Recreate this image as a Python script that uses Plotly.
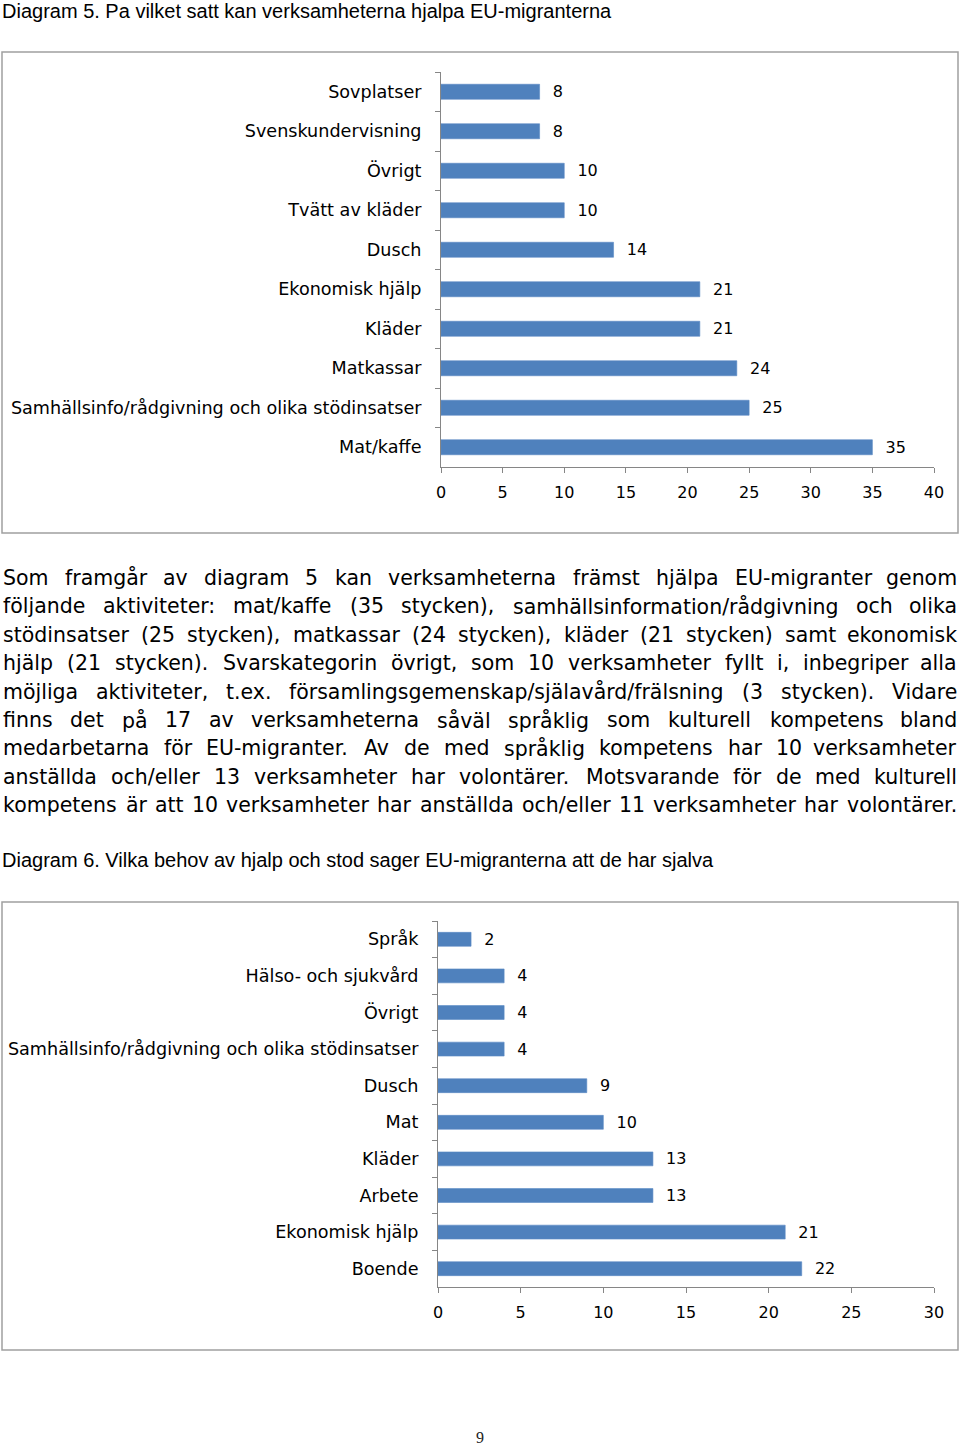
import plotly.graph_objects as go

W, H = 960, 1448

# ---------------- data ----------------
cats1 = ["Sovplatser", "Svenskundervisning", "Övrigt", "Tvätt av kläder", "Dusch",
         "Ekonomisk hjälp", "Kläder", "Matkassar",
         "Samhällsinfo/rådgivning och olika stödinsatser", "Mat/kaffe"]
vals1 = [8, 8, 10, 10, 14, 21, 21, 24, 25, 35]
ticks1 = [0, 5, 10, 15, 20, 25, 30, 35, 40]

cats2 = ["Språk", "Hälso- och sjukvård", "Övrigt",
         "Samhällsinfo/rådgivning och olika stödinsatser", "Dusch", "Mat",
         "Kläder", "Arbete", "Ekonomisk hjälp", "Boende"]
vals2 = [2, 4, 4, 4, 9, 10, 13, 13, 21, 22]
ticks2 = [0, 5, 10, 15, 20, 25, 30]

title1 = "Diagram 5. Pa vilket satt kan verksamheterna hjalpa EU-migranterna"
title2 = "Diagram 6. Vilka behov av hjalp och stod sager EU-migranterna att de har sjalva"
paragraph_lines = [
    "Som framgår av diagram 5 kan verksamheterna främst hjälpa EU-migranter genom",
    "följande aktiviteter: mat/kaffe (35 stycken), samhällsinformation/rådgivning och olika",
    "stödinsatser (25 stycken), matkassar (24 stycken), kläder (21 stycken) samt ekonomisk",
    "hjälp (21 stycken). Svarskategorin övrigt, som 10 verksamheter fyllt i, inbegriper alla",
    "möjliga aktiviteter, t.ex. församlingsgemenskap/själavård/frälsning (3 stycken). Vidare",
    "finns det på 17 av verksamheterna såväl språklig som kulturell kompetens bland",
    "medarbetarna för EU-migranter. Av de med språklig kompetens har 10 verksamheter",
    "anställda och/eller 13 verksamheter har volontärer. Motsvarande för de med kulturell",
    "kompetens är att 10 verksamheter har anställda och/eller 11 verksamheter har volontärer.",
]
page_number = "9"

# ---------------- helpers ----------------
def px(x):
    return x / W

def py(y):
    return 1 - y / H

# approximate DejaVu Sans advance widths (units per 2048 em)
DJV = {' ': 651, '(': 799, ')': 799, ',': 651, '-': 739, '.': 651, '/': 690, ':': 690,
       'A': 1401, 'E': 1294, 'M': 1767, 'S': 1300, 'U': 1499, 'V': 1401,
       'a': 1255, 'b': 1300, 'c': 1126, 'd': 1300, 'e': 1260, 'f': 721, 'g': 1300,
       'h': 1298, 'i': 569, 'j': 569, 'k': 1186, 'l': 569, 'm': 1995, 'n': 1298,
       'o': 1253, 'p': 1300, 'q': 1300, 'r': 842, 's': 1067, 't': 803, 'u': 1298,
       'v': 1212, 'w': 1675, 'x': 1212, 'y': 1212, 'z': 1075,
       'ä': 1255, 'å': 1255, 'ö': 1253}
for d in "0123456789":
    DJV[d] = 1303

def text_width(s, size):
    return sum(DJV.get(ch, 1200) for ch in s) / 2048 * size

BLUE = "#4F81BD"
AXIS = "#868686"
FRAME = "#a0a0a0"
FONT = "DejaVu Sans"

fig = go.Figure()

fig.add_trace(go.Bar(
    x=vals1, y=cats1, orientation="h", xaxis="x", yaxis="y",
    marker=dict(color=BLUE, line=dict(color="#5b8ac4", width=0.6)),
    text=["\u00a0\u00a0" + str(v) for v in vals1], textposition="outside",
    textfont=dict(family=FONT, size=16, color="#000"),
    constraintext="none", cliponaxis=False, showlegend=False, hoverinfo="skip",
))
fig.add_trace(go.Bar(
    x=vals2, y=cats2, orientation="h", xaxis="x2", yaxis="y2",
    marker=dict(color=BLUE, line=dict(color="#5b8ac4", width=0.6)),
    text=["\u00a0\u00a0" + str(v) for v in vals2], textposition="outside",
    textfont=dict(family=FONT, size=16, color="#000"),
    constraintext="none", cliponaxis=False, showlegend=False, hoverinfo="skip",
))

xcommon = dict(showgrid=False, zeroline=False, showline=True, linecolor=AXIS, linewidth=1,
               ticks="outside", ticklen=5, tickcolor=AXIS, tickwidth=1,
               tickfont=dict(family=FONT, size=16, color="#000"), ticklabelstandoff=6,
               automargin=False, fixedrange=True)
ycommon = dict(type="category", autorange="reversed", showgrid=False, zeroline=False,
               showline=True, linecolor=AXIS, linewidth=1, ticks="outside", ticklen=5,
               tickcolor=AXIS, tickwidth=1, tickson="boundaries",
               tickfont=dict(family=FONT, size=17.6, color="#000"), ticklabelstandoff=15,
               automargin=False, fixedrange=True)

fig.update_layout(
    width=W, height=H, autosize=False,
    margin=dict(l=0, r=0, t=0, b=0, pad=0, autoexpand=False),
    paper_bgcolor="white", plot_bgcolor="white",
    bargap=0.62, showlegend=False,
    xaxis=dict(domain=[px(441), px(934)], range=[0, 40], tickvals=ticks1, anchor="y", **xcommon),
    yaxis=dict(domain=[py(467), py(72)], anchor="x", **ycommon),
    xaxis2=dict(domain=[px(438), px(934)], range=[0, 30], tickvals=ticks2, anchor="y2", **xcommon),
    yaxis2=dict(domain=[py(1287), py(921)], anchor="x2", **ycommon),
)

shapes = [
    dict(type="rect", xref="paper", yref="paper", x0=px(2), x1=px(958), y0=py(533), y1=py(52),
         line=dict(color=FRAME, width=1.5), fillcolor="rgba(0,0,0,0)", layer="below"),
    dict(type="rect", xref="paper", yref="paper", x0=px(2), x1=px(958), y0=py(1350), y1=py(902),
         line=dict(color=FRAME, width=1.5), fillcolor="rgba(0,0,0,0)", layer="below"),
]
fig.update_layout(shapes=shapes)

ann = []
HEAD_FONT = dict(family="Liberation Sans", size=20, color="#000")
ann.append(dict(text=title1, x=px(1), y=py(11), xref="paper", yref="paper",
                xanchor="left", yanchor="middle", showarrow=False, font=HEAD_FONT, borderpad=0))
ann.append(dict(text=title2, x=px(1), y=py(860), xref="paper", yref="paper",
                xanchor="left", yanchor="middle", showarrow=False, font=HEAD_FONT, borderpad=0))

# justified paragraph
PSIZE = 20.5
left, right = 2, 958
line_y0, line_dy = 578, 28.4
for i, line in enumerate(paragraph_lines):
    words = line.split(" ")
    widths = [text_width(w, PSIZE) for w in words]
    gap = (right - left - sum(widths)) / (len(words) - 1)
    xcur = left
    yline = line_y0 + i * line_dy
    for j, (w, wd) in enumerate(zip(words, widths)):
        last = j == len(words) - 1
        ann.append(dict(text=w, x=px(right if last else xcur), y=py(yline),
                        xref="paper", yref="paper",
                        xanchor="right" if last else "left", yanchor="middle",
                        showarrow=False, borderpad=0,
                        font=dict(family=FONT, size=PSIZE, color="#000")))
        xcur += wd + gap

ann.append(dict(text=page_number, x=px(480), y=py(1437), xref="paper", yref="paper",
                xanchor="center", yanchor="middle", showarrow=False,
                font=dict(family="Liberation Serif", size=16, color="#222")))
fig.update_layout(annotations=ann)

fig.write_html("out.html", config={"displayModeBar": False},
               post_script="document.body.style.margin='0px';document.body.style.overflow='hidden';")
